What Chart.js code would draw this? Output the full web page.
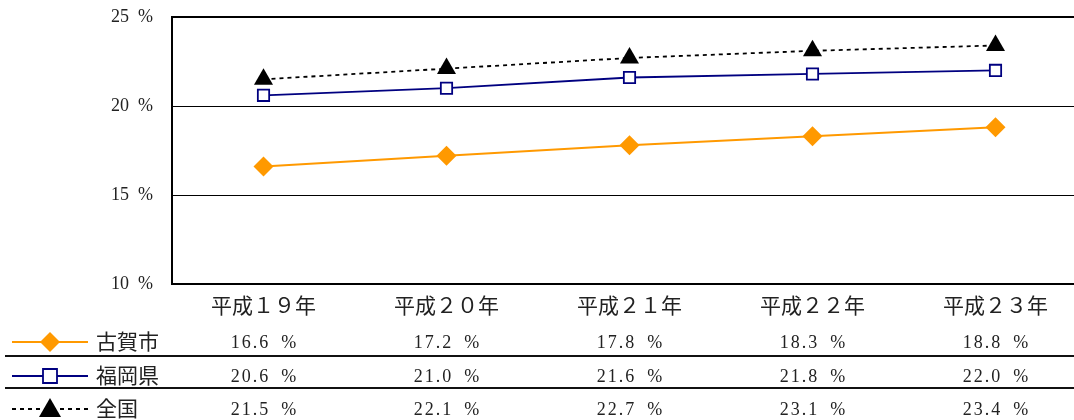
<!DOCTYPE html>
<html>
<head>
<meta charset="utf-8">
<script src="https://cdn.jsdelivr.net/npm/chart.js@4"></script>
<style>
  html, body { margin: 0; padding: 0; background: #fff; overflow: hidden; }
  #wrap { width: 1098px; height: 420px; }
</style>
</head>
<body>
<div id="wrap"><canvas id="chart" width="1098" height="420"></canvas></div>
<script>
'use strict';

// Data
const years = ['平成１９年', '平成２０年', '平成２１年', '平成２２年', '平成２３年'];
const kogaValues = [16.6, 17.2, 17.8, 18.3, 18.8];
const fukuokaValues = [20.6, 21.0, 21.6, 21.8, 22.0];
const zenkokuValues = [21.5, 22.1, 22.7, 23.1, 23.4];
const seriesNames = ['古賀市', '福岡県', '全国'];

const FONT = '"Liberation Serif", "DejaVu Serif", "Noto Sans CJK JP", serif';
const ORANGE = '#ff9900';
const NAVY = '#000080';

function drawMarker(ctx, style, x, y, color) {
  ctx.save();
  ctx.fillStyle = color;
  ctx.strokeStyle = color;
  ctx.beginPath();
  if (style === 'diamond') {
    const r = 10;
    ctx.moveTo(x, y - r);
    ctx.lineTo(x + r, y);
    ctx.lineTo(x, y + r);
    ctx.lineTo(x - r, y);
    ctx.closePath();
    ctx.fill();
  } else if (style === 'square') {
    ctx.lineWidth = 1.8;
    ctx.fillStyle = '#fff';
    ctx.rect(x - 7, y - 7, 14, 14);
    ctx.fill();
    ctx.stroke();
  } else {
    ctx.moveTo(x, y - 11);
    ctx.lineTo(x + 11, y + 8);
    ctx.lineTo(x - 11, y + 8);
    ctx.closePath();
    ctx.fill();
  }
  ctx.restore();
}

// Data table with legend keys under the plot
const tablePlugin = {
  id: 'dataTable',
  afterDraw(chart) {
    const { ctx } = chart;
    const xScale = chart.scales.x;
    const rows = [
      { name: seriesNames[0], values: kogaValues, color: ORANGE, marker: 'diamond', dash: [] },
      { name: seriesNames[1], values: fukuokaValues, color: NAVY, marker: 'square', dash: [] },
      { name: seriesNames[2], values: zenkokuValues, color: '#000', marker: 'triangle', dash: [4, 4] },
    ];
    const rowY = [342, 376, 409];

    ctx.save();
    rows.forEach((row, i) => {
      const y = rowY[i];
      // legend key
      ctx.strokeStyle = row.color;
      ctx.lineWidth = 1.8;
      ctx.setLineDash(row.dash);
      ctx.beginPath();
      ctx.moveTo(12, y);
      ctx.lineTo(88, y);
      ctx.stroke();
      ctx.setLineDash([]);
      drawMarker(ctx, row.marker, 50, y, row.color);

      ctx.fillStyle = '#222';
      ctx.font = '21px ' + FONT;
      ctx.textAlign = 'left';
      ctx.textBaseline = 'middle';
      ctx.fillText(row.name, 96, y + 1);

      ctx.font = '18px ' + FONT;
      ctx.textAlign = 'center';
      ctx.letterSpacing = '2px';
      row.values.forEach((v, j) => {
        ctx.fillText(v.toFixed(1) + '\u2002%', xScale.getPixelForValue(j) + 1, y + 1);
      });
      ctx.letterSpacing = '0px';
    });

    // row separators
    ctx.strokeStyle = '#111';
    ctx.lineWidth = 2;
    [356, 388].forEach(y => {
      ctx.beginPath();
      ctx.moveTo(5, y);
      ctx.lineTo(chart.width, y);
      ctx.stroke();
    });
    ctx.restore();
  }
};

new Chart(document.getElementById('chart'), {
  type: 'line',
  data: {
    labels: years,
    datasets: [
      {
        label: seriesNames[2],
        data: zenkokuValues,
        borderColor: '#000',
        backgroundColor: '#000',
        borderWidth: 1.8,
        borderDash: [4, 4],
        pointStyle: 'triangle',
        pointRadius: 11,
        pointBorderWidth: 0,
        tension: 0,
      },
      {
        label: seriesNames[1],
        data: fukuokaValues,
        borderColor: NAVY,
        backgroundColor: '#fff',
        borderWidth: 1.8,
        pointStyle: 'rect',
        pointRadius: 8,
        pointBorderWidth: 1.8,
        pointBorderColor: NAVY,
        tension: 0,
      },
      {
        label: seriesNames[0],
        data: kogaValues,
        borderColor: ORANGE,
        backgroundColor: ORANGE,
        borderWidth: 2,
        pointStyle: 'rectRot',
        pointRadius: 10,
        pointBorderWidth: 0,
        tension: 0,
      },
    ],
  },
  options: {
    responsive: false,
    animation: false,
    layout: { padding: { top: 17, left: 0, right: 0, bottom: 0 } },
    plugins: {
      legend: { display: false },
      tooltip: { enabled: false },
    },
    scales: {
      x: {
        offset: true,
        afterFit: scale => {
          scale.height = 136;
          scale.paddingLeft = 0;
          scale.paddingRight = 0;
        },
        grid: { display: false },
        border: { display: true, color: '#000', width: 2 },
        ticks: {
          color: '#222',
          padding: 3,
          maxRotation: 0,
          font: { family: FONT, size: 21 },
        },
      },
      y: {
        min: 10,
        max: 25,
        afterFit: scale => {
          scale.width = 172;
          scale.paddingTop = 0;
          scale.paddingBottom = 0;
        },
        border: { display: true, color: '#000', width: 2 },
        grid: {
          drawTicks: false,
          color: '#000',
          lineWidth: ctx => (ctx.tick.value === 25 ? 2 : ctx.tick.value === 10 ? 0 : 1),
        },
        ticks: {
          stepSize: 5,
          padding: 19,
          color: '#222',
          font: { family: FONT, size: 18 },
          callback: v => v + '\u2002%',
        },
      },
    },
  },
  plugins: [tablePlugin],
});
</script>
</body>
</html>
